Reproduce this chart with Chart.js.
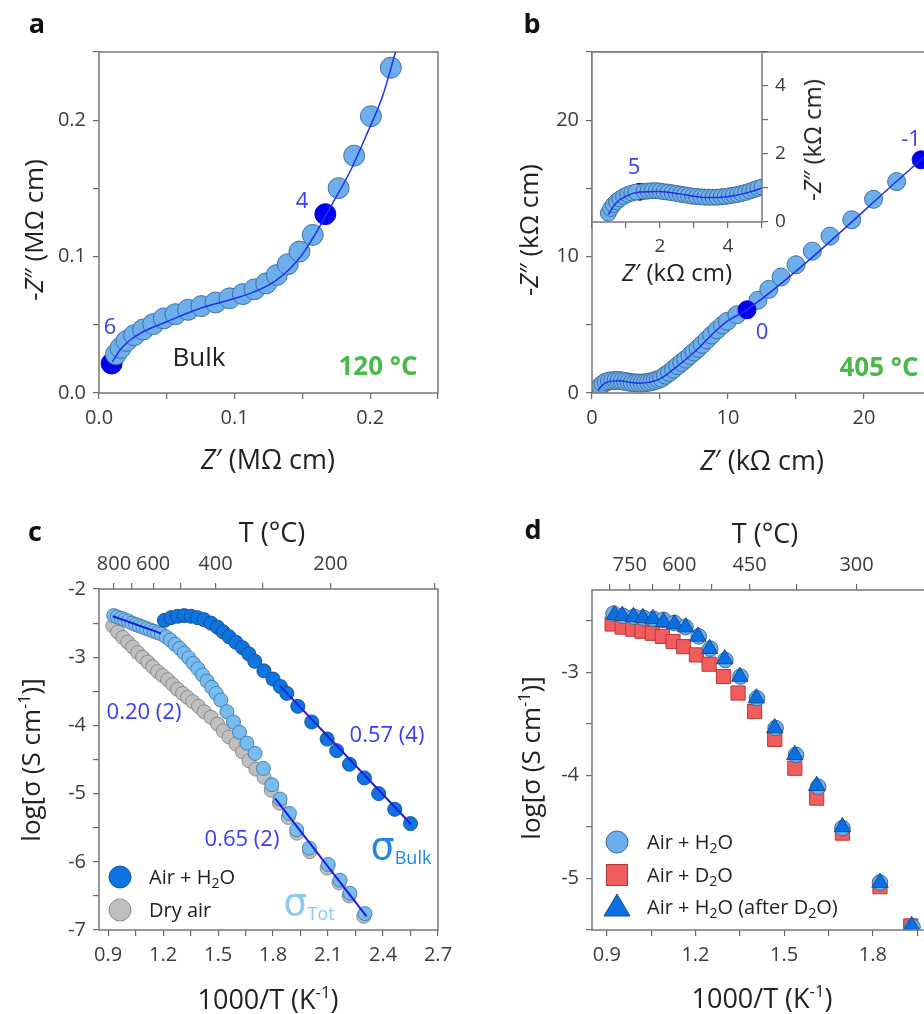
<!DOCTYPE html>
<html>
<head>
<meta charset="utf-8">
<script src="https://cdn.jsdelivr.net/npm/chart.js@4.4.1/dist/chart.umd.min.js"></script>
<style>
  html, body { margin: 0; padding: 0; width: 924px; height: 1014px; overflow: hidden; background: #fff; }
  body { position: relative; font-family: "Open Sans", sans-serif; }
  canvas { position: absolute; }
  .t { position: absolute; white-space: nowrap; line-height: 1; transform: translate(-50%, -50%); color: #222; z-index: 5; }
  .l { transform: translate(0, -50%); }
  .rot { transform: translate(-50%, -50%) rotate(-90deg); }
  .ttl { font-size: 27px; }
  .ttly { font-size: 26px; }
  .ins { font-size: 24px; }
  .let { font-size: 27px; font-weight: 700; color: #111; }
  .num { font-size: 22px; color: #3b3bf5; }
  .grn { font-size: 26px; font-weight: 700; color: #4bb84a; }
  .bulk { font-size: 26px; color: #222; }
  .leg { font-size: 20px; color: #222; }
  .sig { font-size: 38px; font-family: "DejaVu Sans", sans-serif; }
  .sig sub { font-family: "Open Sans", sans-serif; font-size: 18px; vertical-align: -0.25em; }
  sub { font-size: 0.7em; vertical-align: -0.3em; line-height: 0; }
  sup { font-size: 0.62em; vertical-align: 0.6em; line-height: 0; }
  svg.mk { position: absolute; transform: translate(-50%, -50%); z-index: 5; }
</style>
</head>
<body>
<script>
// ---- panel a: impedance at 120 °C (MOhm cm)
const aZre = [0.0125, 0.0159, 0.0203, 0.0260, 0.0326, 0.0400, 0.0478, 0.0564, 0.0657, 0.0755, 0.0860, 0.0963,
  0.1061, 0.1147, 0.1233, 0.1311, 0.1392, 0.1478, 0.1576, 0.1767, 0.1882, 0.2005, 0.2152];
const aZim = [0.0284, 0.0331, 0.0382, 0.0424, 0.0466, 0.0505, 0.0547, 0.0578, 0.0610, 0.0637, 0.0664, 0.0694,
  0.0725, 0.0760, 0.0804, 0.0865, 0.0944, 0.1037, 0.1159, 0.1502, 0.1740, 0.2029, 0.2385];
const aMarkZre = [0.0093, 0.1669];
const aMarkZim = [0.0216, 0.1311];
const aFitZre = [0.0098, 0.0154, 0.0228, 0.0326, 0.0498, 0.0743, 0.0988, 0.1135, 0.1282, 0.1404, 0.1502, 0.1625,
  0.1723, 0.1846, 0.1968, 0.2091, 0.2189, 0.2230];
const aFitZim = [0.0228, 0.0314, 0.0387, 0.0449, 0.0522, 0.0620, 0.0689, 0.0738, 0.0809, 0.0907, 0.1020, 0.1216,
  0.1392, 0.1613, 0.1882, 0.2176, 0.2507, 0.2640];
const aTicks = [0, 0.05, 0.1, 0.15, 0.2, 0.25];
const aTickLabels = ['0.0', '', '0.1', '', '0.2', ''];

// ---- panel b: impedance at 405 °C (kOhm cm)
const bZre = [0.48, 0.63, 0.82, 1.05, 1.29, 1.53, 1.77, 2.0, 2.24, 2.48, 2.72, 2.96, 3.20, 3.44, 3.68, 3.92, 4.16,
  4.40, 4.64, 4.88, 5.12, 5.4, 5.7, 6.0, 6.3, 6.6, 6.9, 7.2, 7.5, 7.8, 8.1, 8.45, 8.8, 9.2, 9.6, 9.95, 10.65,
  12.2, 13.0, 13.9, 15.0, 16.2, 17.5, 19.1, 20.7, 22.4];
const bZim = [0.26, 0.51, 0.68, 0.81, 0.88, 0.90, 0.92, 0.91, 0.88, 0.84, 0.80, 0.76, 0.74, 0.73, 0.73, 0.75, 0.79,
  0.84, 0.91, 0.99, 1.08, 1.30, 1.50, 1.75, 2.0, 2.24, 2.48, 2.75, 3.0, 3.27, 3.56, 3.90, 4.25, 4.63, 4.98, 5.26, 5.74,
  6.8, 7.6, 8.5, 9.4, 10.4, 11.5, 12.7, 14.2, 15.5];
const bMarkZre = [11.4, 24.2];
const bMarkZim = [6.1, 17.1];
const bFitZre = [0.45, 0.8, 1.4, 2.0, 2.8, 3.5, 4.2, 5.0, 6.0, 7.0, 8.0, 9.0, 10.0, 11.4, 24.2, 26];
const bFitZim = [0.2, 0.62, 0.87, 0.9, 0.78, 0.72, 0.78, 1.03, 1.75, 2.55, 3.45, 4.45, 5.3, 6.1, 17.1, 18.65];
const bTicks = [0, 5, 10, 15, 20, 25];
const bTickLabels = ['0', '', '10', '', '20', ''];

// inset of b
const iZre = [0.48, 0.55, 0.63, 0.72, 0.82, 0.93, 1.05, 1.17, 1.29, 1.53, 1.65, 1.77, 1.89, 2.0, 2.12, 2.24, 2.36,
  2.48, 2.60, 2.72, 2.84, 2.96, 3.08, 3.20, 3.32, 3.44, 3.56, 3.68, 3.80, 3.92, 4.04, 4.16, 4.28, 4.40, 4.52, 4.64,
  4.76, 4.88, 5.0, 5.12];
const iZim = [0.26, 0.40, 0.51, 0.60, 0.68, 0.75, 0.81, 0.85, 0.88, 0.90, 0.91, 0.92, 0.92, 0.91, 0.89, 0.88, 0.86,
  0.84, 0.82, 0.80, 0.78, 0.76, 0.75, 0.74, 0.73, 0.73, 0.73, 0.73, 0.74, 0.75, 0.77, 0.79, 0.81, 0.84, 0.87, 0.91,
  0.95, 0.99, 1.03, 1.08];
const iMarkZre = [1.41];
const iMarkZim = [0.89];
const iFitZre = [0.48, 0.7, 1.0, 1.4, 2.0, 2.6, 3.2, 3.6, 4.2, 4.7, 5.2];
const iFitZim = [0.22, 0.55, 0.76, 0.88, 0.9, 0.82, 0.73, 0.72, 0.78, 0.9, 1.08];
const iTicks = [0, 1, 2, 3, 4, 5];
const iXLabels = ['', '', '2', '', '4', ''];
const iYLabels = ['0', '', '2', '', '4', ''];

// ---- panel c: Arrhenius, bulk / total / dry air
const cBulkX = [1.207, 1.243, 1.279, 1.315, 1.352, 1.388, 1.424, 1.461, 1.497, 1.528, 1.560, 1.597, 1.633, 1.667,
  1.70, 1.75, 1.80, 1.84, 1.875, 1.935, 2.011, 2.095, 2.147, 2.217, 2.298, 2.376, 2.464, 2.550];
const cBulkY = [-2.46, -2.42, -2.40, -2.39, -2.40, -2.42, -2.45, -2.50, -2.56, -2.63, -2.70, -2.78, -2.86, -2.95,
  -3.06, -3.20, -3.32, -3.43, -3.53, -3.72, -3.95, -4.20, -4.37, -4.57, -4.77, -5.00, -5.23, -5.44];
const cTotX = [0.93, 0.95, 0.97, 0.99, 1.01, 1.03, 1.05, 1.07, 1.09, 1.11, 1.13, 1.15, 1.17, 1.19, 1.215, 1.24,
  1.265, 1.29, 1.315, 1.34, 1.365, 1.39, 1.415, 1.44, 1.465, 1.49, 1.515, 1.548, 1.584, 1.617, 1.657, 1.702, 1.747,
  1.793, 1.838, 1.889, 1.929, 1.998, 2.101, 2.165, 2.219, 2.301];
const cTotY = [-2.39, -2.41, -2.43, -2.45, -2.47, -2.50, -2.52, -2.54, -2.56, -2.58, -2.60, -2.62, -2.64, -2.66,
  -2.70, -2.75, -2.81, -2.87, -2.94, -3.01, -3.09, -3.17, -3.26, -3.35, -3.44, -3.53, -3.63, -3.80, -3.95, -4.10,
  -4.26, -4.41, -4.63, -4.87, -5.08, -5.29, -5.53, -5.80, -6.04, -6.27, -6.46, -6.76];
const cDryX = [0.925, 0.952, 0.980, 1.007, 1.034, 1.061, 1.088, 1.116, 1.143, 1.170, 1.197, 1.225, 1.252, 1.279,
  1.306, 1.333, 1.361, 1.393, 1.424, 1.461, 1.497, 1.528, 1.560, 1.597, 1.633, 1.669, 1.706, 1.751, 1.79, 1.835,
  1.883, 1.93, 2.00, 2.095, 2.16, 2.215, 2.295];
const cDryY = [-2.54, -2.63, -2.71, -2.78, -2.85, -2.93, -3.00, -3.07, -3.14, -3.21, -3.27, -3.33, -3.40, -3.47,
  -3.53, -3.59, -3.65, -3.72, -3.80, -3.88, -3.98, -4.08, -4.17, -4.27, -4.39, -4.52, -4.64, -4.76, -4.95, -5.14,
  -5.35, -5.58, -5.85, -6.09, -6.31, -6.50, -6.80];
const cFitHiX = [0.925, 1.189], cFitHiY = [-2.40, -2.65];   // 0.20 (2)
const cFitBulkX = [1.838, 2.553], cFitBulkY = [-3.42, -5.45]; // 0.57 (4)
const cFitTotX = [1.811, 2.310], cFitTotY = [-5.07, -6.80];  // 0.65 (2)
const cXTicks = [0.9, 1.05, 1.2, 1.35, 1.5, 1.65, 1.8, 1.95, 2.1, 2.25, 2.4, 2.55, 2.7];
const cXLabels = ['0.9', '', '1.2', '', '1.5', '', '1.8', '', '2.1', '', '2.4', '', '2.7'];
const cYTicks = [-7, -6.5, -6, -5.5, -5, -4.5, -4, -3.5, -3, -2.5, -2];
const cYLabels = ['-7', '', '-6', '', '-5', '', '-4', '', '-3', '', '-2'];
const cTopTemps = [800, 700, 600, 500, 400, 300, 200, 100];
const cTopLabels = ['800', '', '600', '', '400', '', '200', ''];

// ---- panel d: isotope exchange
const dH2oX = [0.923, 0.954, 0.992, 1.024, 1.058, 1.092, 1.129, 1.166, 1.211, 1.250, 1.301, 1.352, 1.408, 1.471,
  1.540, 1.615, 1.697, 1.824, 1.934];
const dH2oY = [-2.43, -2.45, -2.46, -2.47, -2.48, -2.49, -2.52, -2.56, -2.65, -2.77, -2.88, -3.04, -3.25, -3.54,
  -3.80, -4.11, -4.51, -5.04, -5.47];
const dD2oX = [0.918, 0.952, 0.988, 1.019, 1.054, 1.088, 1.124, 1.160, 1.203, 1.246, 1.295, 1.344, 1.400, 1.468,
  1.536, 1.610, 1.697, 1.824, 1.928];
const dD2oY = [-2.53, -2.56, -2.58, -2.60, -2.62, -2.65, -2.70, -2.75, -2.83, -2.92, -3.04, -3.20, -3.38, -3.65,
  -3.93, -4.22, -4.56, -5.08, -5.46];
const dAfterX = [0.926, 0.952, 0.990, 1.022, 1.056, 1.092, 1.129, 1.167, 1.208, 1.248, 1.299, 1.350, 1.406, 1.468,
  1.536, 1.610, 1.697, 1.824, 1.931];
const dAfterY = [-2.44, -2.45, -2.46, -2.47, -2.48, -2.51, -2.53, -2.56, -2.65, -2.77, -2.87, -3.04, -3.25, -3.54,
  -3.80, -4.10, -4.50, -5.04, -5.46];
const dXTicks = [0.9, 1.05, 1.2, 1.35, 1.5, 1.65, 1.8, 1.95];
const dXLabels = ['0.9', '', '1.2', '', '1.5', '', '1.8', ''];
const dYTicks = [-5.5, -5, -4.5, -4, -3.5, -3, -2.5];
const dYLabels = ['', '-5', '', '-4', '', '-3', ''];
const dTopTemps = [825, 750, 675, 600, 525, 450, 375, 300];
const dTopLabels = ['', '750', '', '600', '', '450', '', '300'];

// ---- helpers
const FONT = 'Open Sans';
const LIGHT = '#6cafec', LIGHT_EDGE = '#40709f', DARK = '#0000ee', FITLINE = '#1f2fef';
const invT = t => 1000 / (t + 273.15);
const xy = (xs, ys) => xs.map((x, i) => ({ x, y: ys[i] }));

function axis(pos, min, max, ticks, labels, size, fontSize) {
  return {
    type: 'linear', position: pos, min, max,
    afterBuildTicks: s => { s.ticks = ticks.map(v => ({ value: v })); },
    afterFit: s => { if (s.isHorizontal()) s.height = size; else s.width = size; },
    ticks: { autoSkip: false, maxRotation: 0, padding: 7, color: '#3c3c3c',
      font: { family: FONT, size: fontSize || 20 }, callback: (v, i) => labels[i] },
    grid: { drawOnChartArea: false, tickLength: 6, color: '#6a6a6a', lineWidth: 1.2 },
    border: { display: false }
  };
}

function marks(xs, ys, fill, edge, r, order, shape) {
  return { data: xy(xs, ys), showLine: false, pointRadius: r, pointHoverRadius: r, pointStyle: shape || 'circle',
    pointBackgroundColor: fill, pointBorderColor: edge, pointBorderWidth: 1, clip: 0, order };
}
function curve(xs, ys, color, w, order, smooth) {
  return { data: xy(xs, ys), showLine: true, pointRadius: 0, borderColor: color, borderWidth: w, fill: false,
    cubicInterpolationMode: smooth ? 'monotone' : 'default', tension: 0, clip: 0, order };
}

const frame = {
  id: 'frame',
  beforeDraw(chart, args, opts) {
    if (!opts.fill) return;
    const { left, top, width, height } = chart.chartArea;
    chart.ctx.save(); chart.ctx.fillStyle = opts.fill; chart.ctx.fillRect(left, top, width, height); chart.ctx.restore();
  },
  afterDatasetsDraw(chart) {
    const { left, top, width, height } = chart.chartArea;
    const c = chart.ctx;
    c.save(); c.strokeStyle = '#777'; c.lineWidth = 1.5; c.strokeRect(left, top, width, height); c.restore();
  }
};

function panel(box, padding, scales, datasets, frameOpts) {
  const cv = document.createElement('canvas');
  cv.width = box[2]; cv.height = box[3];
  cv.style.left = box[0] + 'px'; cv.style.top = box[1] + 'px';
  document.body.appendChild(cv);
  return new Chart(cv, {
    type: 'scatter',
    data: { datasets },
    options: {
      responsive: false, animation: false, devicePixelRatio: 1, events: [],
      layout: { padding },
      scales,
      plugins: { legend: { display: false }, tooltip: { enabled: false }, frame: frameOpts || {} }
    },
    plugins: [frame]
  });
}

function text(html, x, y, cls, color) {
  const d = document.createElement('div');
  d.className = 't ' + (cls || '');
  d.innerHTML = html;
  d.style.left = x + 'px'; d.style.top = y + 'px';
  if (color) d.style.color = color;
  document.body.appendChild(d);
}
function marker(svgInner, x, y, w, h) {
  const s = document.createElementNS('http://www.w3.org/2000/svg', 'svg');
  s.setAttribute('class', 'mk'); s.setAttribute('width', w); s.setAttribute('height', h);
  s.setAttribute('viewBox', `0 0 ${w} ${h}`);
  s.innerHTML = svgInner;
  s.style.left = x + 'px'; s.style.top = y + 'px';
  document.body.appendChild(s);
}

// ---- panel a
panel([0, 0, 460, 480], { top: 52, right: 22, left: 0, bottom: 0 }, {
  x: axis('bottom', 0, 0.25, aTicks, aTickLabels, 87),
  y: axis('left', 0, 0.25, aTicks, aTickLabels, 99)
}, [
  curve(aFitZre, aFitZim, FITLINE, 1.5, 0, true),
  marks(aZre, aZim, LIGHT, LIGHT_EDGE, 10.5, 1),
  marks(aMarkZre, aMarkZim, DARK, DARK, 10.5, 2)
]);

// ---- panel b
panel([460, 0, 500, 480], { top: 52, right: 28, left: 0, bottom: 0 }, {
  x: axis('bottom', 0, 25, bTicks, bTickLabels, 87),
  y: axis('left', 0, 25, bTicks, bTickLabels, 132)
}, [
  curve(bFitZre, bFitZim, FITLINE, 1.5, 0, true),
  marks(bMarkZre, bMarkZim, DARK, DARK, 9, 1),
  marks(bZre, bZim, LIGHT, LIGHT_EDGE, 9, 2)
]);

// inset
panel([540, 30, 300, 260], { top: 22, left: 52, right: 0, bottom: 0 }, {
  x: axis('bottom', 0, 5, iTicks, iXLabels, 68, 19),
  y: axis('right', 0, 5, iTicks, iYLabels, 78, 19)
}, [
  curve(iFitZre, iFitZim, FITLINE, 1.5, 0, true),
  marks(iZre, iZim, LIGHT, LIGHT_EDGE, 8, 1),
  marks(iMarkZre, iMarkZim, '#0010c0', '#0010c0', 8.5, 2)
], { fill: '#fff' });

// ---- panel c
panel([0, 500, 470, 514], { top: 0, right: 32, left: 0, bottom: 0 }, {
  x: axis('bottom', 0.85, 2.7, cXTicks, cXLabels, 84),
  xt: axis('top', 0.85, 2.7, cTopTemps.map(invT), cTopLabels, 89),
  y: axis('left', -7, -2, cYTicks, cYLabels, 99)
}, [
  curve(cFitHiX, cFitHiY, '#1a1ae6', 2, 0),
  curve(cFitBulkX, cFitBulkY, '#1a1ae6', 2, 0),
  curve(cFitTotX, cFitTotY, '#1a1ae6', 2, 0),
  marks(cBulkX, cBulkY, '#0b76e3', '#1d4f8c', 7, 1),
  marks(cTotX, cTotY, '#77bcf0', '#4d7ea8', 7, 2),
  marks(cDryX, cDryY, '#bfbfbf', '#8a8a8a', 7, 3)
]);

// ---- panel d
panel([460, 500, 500, 514], { top: 0, right: 28, left: 0, bottom: 0 }, {
  x: axis('bottom', 0.85, 2.0, dXTicks, dXLabels, 84),
  xt: axis('top', 0.85, 2.0, dTopTemps.map(invT), dTopLabels, 90),
  y: axis('left', -5.5, -2.2, dYTicks, dYLabels, 132)
}, [
  marks(dAfterX, dAfterY, '#0a6fe4', '#1c4e8a', 9.5, 0, 'triangle'),
  marks(dH2oX, dH2oY, '#6aaeec', '#3e6d9c', 7.8, 1),
  marks(dD2oX, dD2oY, '#f25c5c', '#b03a3a', 10, 2, 'rect')
]);

// ---- texts
text('a', 37, 22, 'let'); text('b', 532, 22, 'let');
text('c', 35, 530, 'let'); text('d', 533, 528, 'let');

text('<i>Z</i>′ (MΩ cm)', 268, 458, 'ttl');
text('-<i>Z</i>″ (MΩ cm)', 33, 230, 'ttly rot');
text('6', 110, 325, 'num'); text('4', 302, 199, 'num');
text('Bulk', 199, 356, 'bulk');
text('120 °C', 378, 365, 'grn');

text('<i>Z</i>′ (kΩ cm)', 762, 459, 'ttl');
text('-<i>Z</i>″ (kΩ cm)', 528, 230, 'ttly rot');
text('-1', 911, 137, 'num'); text('0', 762, 330, 'num');
text('405 °C', 879, 366, 'grn');
text('5', 634, 165, 'num');
text('<i>Z</i>′ (kΩ cm)', 677, 272, 'ins');
text('-<i>Z</i>″ (kΩ cm)', 812, 140, 'ins rot');

text('T (°C)', 272, 531, 'ttl');
text('log[σ (S cm<sup>-1</sup>)]', 30, 760, 'ttly rot');
text('1000/T (K<sup>-1</sup>)', 268, 998, 'ttl');
text('0.20 (2)', 144, 710, 'num'); text('0.57 (4)', 387, 733, 'num'); text('0.65 (2)', 242, 837, 'num');
text('σ<sub>Bulk</sub>', 401, 846, 'sig', '#1e86e6');
text('σ<sub>Tot</sub>', 309, 902, 'sig', '#8dc8f3');
marker('<circle cx="12" cy="12" r="11" fill="#0b76e3" stroke="#1d4f8c" stroke-width="1"/>', 120, 877, 24, 24);
marker('<circle cx="12" cy="12" r="11" fill="#bfbfbf" stroke="#8a8a8a" stroke-width="1"/>', 120, 910, 24, 24);
text('Air + H<sub>2</sub>O', 149, 877, 'leg l');
text('Dry air', 149, 910, 'leg l');

text('T (°C)', 765, 532, 'ttl');
text('log[σ (S cm<sup>-1</sup>)]', 530, 758, 'ttly rot');
text('1000/T (K<sup>-1</sup>)', 762, 997, 'ttl');
marker('<circle cx="12" cy="12" r="11" fill="#6aaeec" stroke="#3e6d9c" stroke-width="1"/>', 617, 842, 24, 24);
marker('<rect x="1" y="1" width="21" height="21" fill="#f25c5c" stroke="#b03a3a" stroke-width="1"/>', 617, 875, 23, 23);
marker('<polygon points="14,1 27,23 1,23" fill="#0a6fe4" stroke="#1c4e8a" stroke-width="1"/>', 617, 905, 28, 24);
text('Air + H<sub>2</sub>O', 647, 842, 'leg l');
text('Air + D<sub>2</sub>O', 647, 875, 'leg l');
text('Air + H<sub>2</sub>O (after D<sub>2</sub>O)', 647, 907, 'leg l');
</script>
</body>
</html>
